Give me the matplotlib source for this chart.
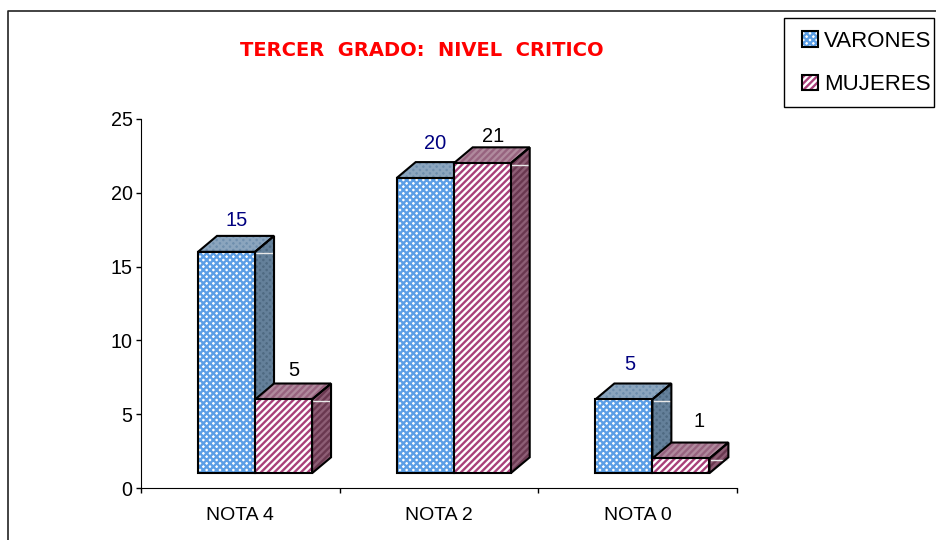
import matplotlib
matplotlib.use('Agg')
import matplotlib.pyplot as plt
from matplotlib.patches import Polygon, Patch, Rectangle
from matplotlib.legend_handler import HandlerTuple
from matplotlib.lines import Line2D

# Datos
categorias = ['NOTA 4', 'NOTA 2', 'NOTA 0']
varones = [15, 20, 5]
mujeres = [5, 21, 1]
yticks = [0, 5, 10, 15, 20, 25]

plt.rcParams['font.family'] = ['Liberation Sans', 'DejaVu Sans']
plt.rcParams['hatch.linewidth'] = 1.7

fig = plt.figure(figsize=(9.37, 5.4), dpi=100)
ax = fig.add_axes([141 / 937, 1 - 488 / 540, 596 / 937, 369 / 540])
ax.set_xlim(0, 3)
ax.set_ylim(0, 25)

# Pseudo 3D: profundidad en unidades de datos
ancho = 0.287
inicio = 0.287
base = 1.0
dx = 0.0956
dy = 1.08


def cara(verts, color, hatch, color_hatch, z):
    ax.add_patch(Polygon(verts, closed=True, facecolor=color, edgecolor=color_hatch,
                         hatch=hatch, lw=0, zorder=z, clip_on=False))
    ax.add_patch(Polygon(verts, closed=True, fill=False, edgecolor='black',
                         lw=1.5, zorder=z + 0.1, clip_on=False))


def barra(x, valor, frente, hatch_frente, hatch, tapa, lado, z):
    top = base + valor
    # lado derecho
    cara([(x + ancho, base), (x + ancho + dx, base + dy), (x + ancho + dx, top + dy), (x + ancho, top)],
         lado[0], hatch, lado[1], z)
    # brillo en el lado
    ax.plot([x + ancho + 0.006, x + ancho + dx - 0.006], [top - 0.1, top - 0.1], color='#e8e8e8', lw=1, zorder=z + 0.05)
    # tapa
    cara([(x, top), (x + dx, top + dy), (x + ancho + dx, top + dy), (x + ancho, top)],
         tapa[0], hatch, tapa[1], z)
    # frente
    ax.bar(x, valor, ancho, bottom=base, align='edge', color='white', edgecolor=frente,
           hatch=hatch_frente, lw=0, zorder=z + 0.2)
    ax.bar(x, valor, ancho, bottom=base, align='edge', fill=False, edgecolor='black',
           lw=1.5, zorder=z + 0.3)


azul = '#5b9ee6'
rosa = '#a8407a'
for i in range(len(categorias)):
    x0 = i + inicio
    barra(x0, varones[i], azul, 'xxxxx', 'xxxxx', ('#6f8fae', '#8ba5be'), ('#4f6a82', '#64809a'), 2)
    barra(x0 + ancho, mujeres[i], rosa, '/////', '/////', ('#97637f', '#b08a9d'), ('#6a3850', '#8d5e75'), 3)

# Etiquetas de datos, desplazadas a mano (en px)
despl_v = [(10, 36), (10, 40), (6, 40)]
despl_m = [(10, 34), (11, 32), (18, 42)]
for i in range(len(categorias)):
    x0 = i + inicio
    ax.annotate(str(varones[i]), (x0 + ancho / 2, base + varones[i]),
                xytext=(despl_v[i][0] * 0.72, despl_v[i][1] * 0.72 - 3.6), textcoords='offset points',
                ha='center', va='center', fontsize=14.4, color='#000080', zorder=6)
    ax.annotate(str(mujeres[i]), (x0 + ancho * 1.5, base + mujeres[i]),
                xytext=(despl_m[i][0] * 0.72, despl_m[i][1] * 0.72 - 3.6), textcoords='offset points',
                ha='center', va='center', fontsize=14.4, color='black', zorder=6)

# Ejes
for s in ['top', 'right']:
    ax.spines[s].set_visible(False)
ax.set_yticks(yticks)
ax.tick_params(axis='y', length=3.6, width=1, pad=2.5, labelsize=14.2)
ax.set_xticks([0, 1, 2, 3])
ax.set_xticklabels([])
ax.tick_params(axis='x', which='major', length=3.6, width=1)
ax.set_xticks([0.5, 1.5, 2.5], minor=True)
ax.set_xticklabels(categorias, minor=True)
ax.tick_params(axis='x', which='minor', length=0, pad=14, labelsize=14)

# Titulo
fig.text(422 / 937, 1 - 50 / 540, 'TERCER  GRADO:  NIVEL  CRITICO', color='#ff0000',
         fontsize=14, fontweight='bold', ha='center', va='center', family='DejaVu Sans')

# Marco exterior
fig.add_artist(Line2D([8 / 937, 8 / 937, 1], [0, 1 - 11 / 540, 1 - 11 / 540], color='#222222', lw=1.2))

# Leyenda
fig.add_artist(Rectangle((784 / 937, 1 - 107 / 540), 150 / 937, 89 / 540, transform=fig.transFigure,
                         facecolor='white', edgecolor='black', lw=1))
h_v = (Patch(facecolor='white', edgecolor=azul, hatch='xxxxx', lw=0),
       Patch(fill=False, edgecolor='black', lw=1.5))
h_m = (Patch(facecolor='white', edgecolor=rosa, hatch='/////', lw=0),
       Patch(fill=False, edgecolor='black', lw=1.5))
leg = fig.legend([h_v, h_m], ['VARONES', 'MUJERES'],
                 handler_map={tuple: HandlerTuple(ndivide=1, pad=0)},
                 loc='upper left', bbox_to_anchor=(802 / 937, 1 - 31 / 540),
                 frameon=False, fontsize=16,
                 handlelength=0.72, handleheight=0.72, handletextpad=0.26,
                 labelspacing=1.0, borderpad=0, borderaxespad=0)

fig.savefig('out.png', dpi=100)
